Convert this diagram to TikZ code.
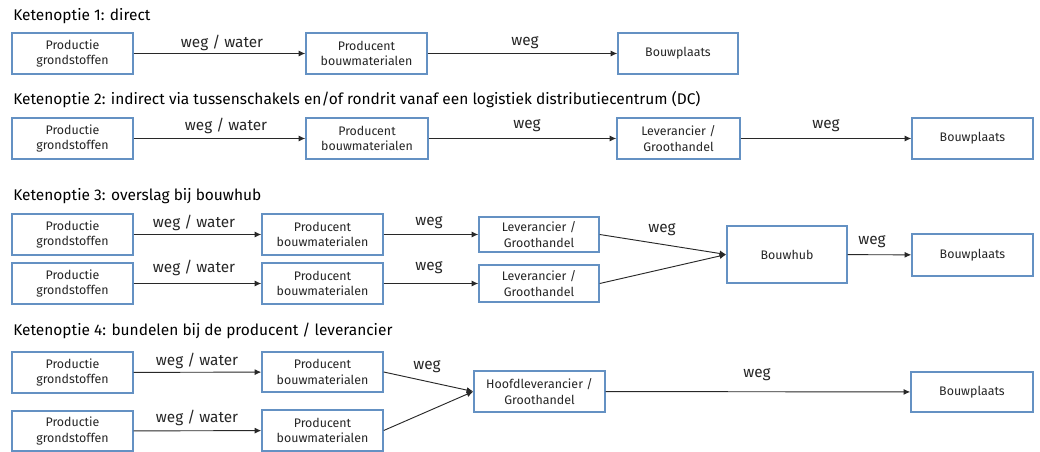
\documentclass[tikz,border=0pt]{standalone}
\usepackage{fontspec}
\setmainfont{Fira Sans}
\usetikzlibrary{arrows.meta}
\definecolor{boxblue}{RGB}{100,145,195}
\definecolor{linegray}{RGB}{40,40,40}
\tikzset{
  bx/.style n args={2}{draw=boxblue, line width=1.1pt, fill=white, align=center,
    minimum width=#1*0.75pt, minimum height=#2*0.75pt, inner sep=1pt,
    font=\fontsize{9.3}{11.6}\selectfont, text=black!85},
  conn/.style={draw=linegray, line width=0.7pt, -{Latex[length=5pt,width=4.5pt]}},
  lbl/.style={font=\fontsize{11.5}{13}\selectfont, text=black!85, inner sep=0pt},
  ttl/.style={font=\fontsize{11.6}{13}\selectfont, anchor=base west, inner sep=0pt, text=black}
}
\begin{document}
\begin{tikzpicture}[x=0.75pt,y=-0.75pt]
\useasboundingbox[fill=white] (0,0) rectangle (1040,452);
% titles
\node[ttl] (t1) at (13,21) {Ketenoptie 1: direct};
\node[ttl] (t2) at (13,105) {Ketenoptie 2: indirect via tussenschakels en/of rondrit vanaf een logistiek distributiecentrum (DC)};
\node[ttl] (t3) at (13,201) {Ketenoptie 3: overslag bij bouwhub};
\node[ttl] (t4) at (13,336) {Ketenoptie 4: bundelen bij de producent / leverancier};
% row 1
\node[bx={121}{41}] (a1) at (72.5,53.5) {Productie\\grondstoffen};
\node[bx={121}{41}] (b1) at (366.5,53.5) {Producent\\bouwmaterialen};
\node[bx={120}{41}] (c1) at (678,53.5) {Bouwplaats};
\draw[conn] (a1) -- (b1);
\draw[conn] (b1) -- (c1);
\node[lbl] (l1a) at (222,43) {weg / water};
\node[lbl] (l1b) at (525,43) {weg};
% row 2
\node[bx={121}{41}] (a2) at (72.5,138.5) {Productie\\grondstoffen};
\node[bx={122}{41}] (b2) at (367,138.5) {Producent\\bouwmaterialen};
\node[bx={123}{41}] (c2) at (678.5,138.5) {Leverancier /\\Groothandel};
\node[bx={121}{41}] (d2) at (972.5,138.5) {Bouwplaats};
\draw[conn] (a2) -- (b2);
\draw[conn] (b2) -- (c2);
\draw[conn] (c2) -- (d2);
\node[lbl] (l2a) at (226,126) {weg / water};
\node[lbl] (l2b) at (527,126) {weg};
\node[lbl] (l2c) at (826,126) {weg};
% row 3
\node[bx={121}{41}] (a3) at (72.5,234.5) {Productie\\grondstoffen};
\node[bx={121}{41}] (b3) at (322.5,234.5) {Producent\\bouwmaterialen};
\node[bx={120}{35}] (c3) at (539,234.5) {Leverancier /\\Groothandel};
\node[bx={121}{41}] (a3b) at (72.5,283.5) {Productie\\grondstoffen};
\node[bx={121}{41}] (b3b) at (322.5,283.5) {Producent\\bouwmaterialen};
\node[bx={120}{37}] (c3b) at (539,283.5) {Leverancier /\\Groothandel};
\node[bx={120}{57}] (hub) at (787,254.5) {Bouwhub};
\node[bx={121}{42}] (d3) at (972.5,255) {Bouwplaats};
\draw[conn] (a3) -- (b3);
\draw[conn] (b3) -- (c3);
\draw[conn] (a3b) -- (b3b);
\draw[conn] (b3b) -- (c3b);
\draw[conn] (c3.east) -- (hub.west);
\draw[conn] (c3b.east) -- (hub.west);
\draw[conn] (hub) -- (d3);
\node[lbl] (l3a) at (194,223) {weg / water};
\node[lbl] (l3b) at (429,223) {weg};
\node[lbl] (l3c) at (194,268) {weg / water};
\node[lbl] (l3d) at (429,268) {weg};
\node[lbl] (l3e) at (662,230) {weg};
\node[lbl] (l3f) at (872,242) {weg};
% row 4
\node[bx={121}{41}] (a4) at (72.5,372.5) {Productie\\grondstoffen};
\node[bx={121}{40}] (b4) at (322.5,372) {Producent\\bouwmaterialen};
\node[bx={121}{40}] (a4b) at (72.5,431) {Productie\\grondstoffen};
\node[bx={121}{41}] (b4b) at (322.5,430.5) {Producent\\bouwmaterialen};
\node[bx={131}{41}] (h4) at (539.5,391.5) {Hoofdleverancier /\\Groothandel};
\node[bx={122}{40}] (d4) at (972,392) {Bouwplaats};
\draw[conn] (a4) -- (b4);
\draw[conn] (a4b) -- (b4b);
\draw[conn] (b4.east) -- (h4.west);
\draw[conn] (b4b.east) -- (h4.west);
\draw[conn] (h4) -- (d4);
\node[lbl] (l4a) at (197,361) {weg / water};
\node[lbl] (l4b) at (197,418) {weg / water};
\node[lbl] (l4c) at (427,367) {weg};
\node[lbl] (l4d) at (757,375) {weg};
\end{tikzpicture}
\end{document}
